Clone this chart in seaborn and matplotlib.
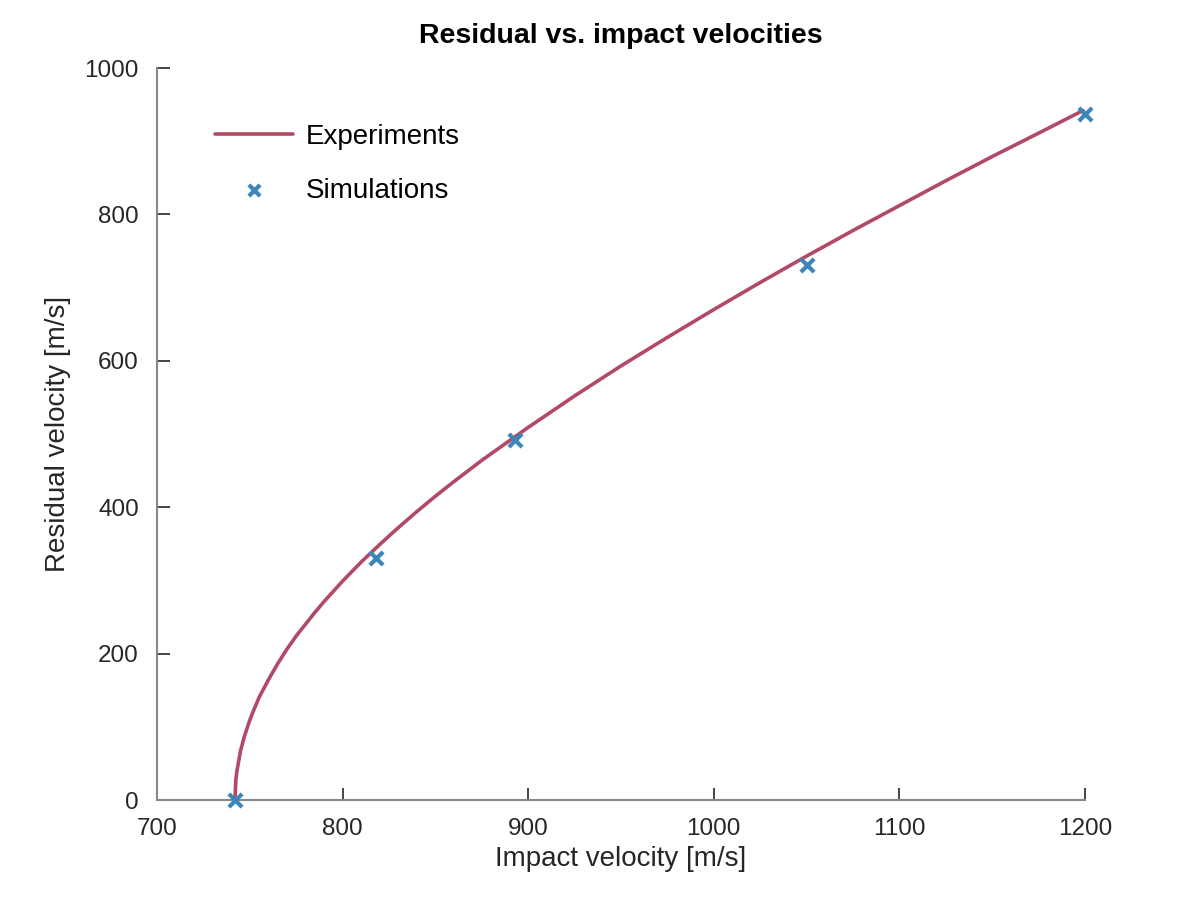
import matplotlib
matplotlib.use("Agg")
import matplotlib.pyplot as plt
import pandas as pd
import seaborn as sns

exp_impact = [742, 742.5, 743, 745, 747, 750, 752, 755, 760, 765, 770, 775, 780, 785,
              790, 800, 810, 820, 830, 840, 850, 860, 875, 900, 925, 950, 975, 1000,
              1025, 1050, 1075, 1100, 1125, 1150, 1175, 1199]
exp_residual = [0, 27, 38, 67, 86, 109, 122, 140, 164, 186, 206, 224, 240, 256,
                271, 299, 325, 349, 372, 394, 415, 435, 464, 509, 552, 593, 632, 670,
                707, 743, 778, 812, 846, 879, 911, 942]

# simulation points
sim_impact = [742, 818, 893, 1050, 1200]
sim_residual = [0, 330, 492, 731, 937]

sns.set_theme(style="ticks")
plt.rcParams["font.family"] = ["Liberation Sans", "DejaVu Sans"]

line_color = "#b24a66"
marker_color = "#3d86bb"

fig = plt.figure(figsize=(12, 9), dpi=100)
ax = fig.add_axes([0.1308, 0.1111, 0.7733, 0.8133])

df_exp = pd.DataFrame({"impact": exp_impact, "residual": exp_residual})
df_sim = pd.DataFrame({"impact": sim_impact, "residual": sim_residual})

sns.lineplot(data=df_exp, x="impact", y="residual", ax=ax, color=line_color,
             linewidth=2.6, label="Experiments", sort=False)
sns.scatterplot(data=df_sim, x="impact", y="residual", ax=ax, color=marker_color,
                marker="x", s=90, linewidth=3, label="Simulations", zorder=3,
                clip_on=False)

ax.set_xlim(700, 1200)
ax.set_ylim(0, 1000)
ax.set_xticks([700, 800, 900, 1000, 1100, 1200])
ax.set_yticks([0, 200, 400, 600, 800, 1000])

ax.set_title("Residual vs. impact velocities", fontsize=20.5, fontweight="bold",
             color="black", pad=18)
ax.set_xlabel("Impact velocity [m/s]", fontsize=20, color="#262626", labelpad=4)
ax.set_ylabel("Residual velocity [m/s]", fontsize=20, color="#262626", labelpad=10)

sns.despine(ax=ax)
for side in ["left", "bottom"]:
    ax.spines[side].set_color("#888888")
    ax.spines[side].set_linewidth(1.5)
ax.tick_params(axis="both", direction="in", length=9, width=1.2, color="#262626",
               labelsize=17.5, labelcolor="#262626")
ax.tick_params(axis="x", pad=13)
ax.tick_params(axis="y", pad=13)

leg = ax.legend(loc="upper left", bbox_to_anchor=(0.036, 0.958), frameon=False,
                fontsize=20, handlelength=2.8, handletextpad=0.47, labelspacing=1.0,
                markerscale=0.85)
for t in leg.get_texts():
    t.set_color("black")

fig.savefig("out.png", dpi=100)
